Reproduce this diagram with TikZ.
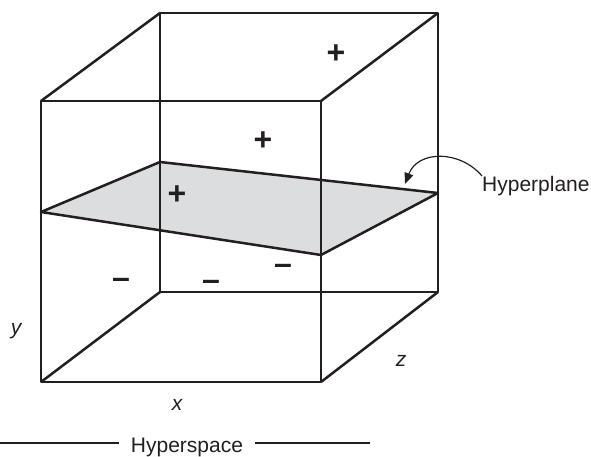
\documentclass[tikz,border=0pt]{standalone}
\usepackage{fontspec}
\setmainfont{Liberation Sans}
\usetikzlibrary{arrows.meta,calc}
\definecolor{hypink}{RGB}{35,31,32}
\definecolor{hypfill}{RGB}{220,221,223}

\begin{document}
\begin{tikzpicture}[x=1pt, y=-1pt,
    edge/.style={draw=hypink, line width=2.5pt, line join=round},
    sign/.style={text=hypink, font=\fontsize{32}{34}\selectfont\bfseries, inner sep=0pt},
    lbl/.style={text=hypink, font=\fontsize{21}{25}\selectfont, inner sep=0pt}]
  \useasboundingbox (0,0) rectangle (591,457);

  % cube corners
  \coordinate (ftl) at (41,101);
  \coordinate (ftr) at (321,101);
  \coordinate (fbr) at (321,382);
  \coordinate (fbl) at (41,382);
  \coordinate (btl) at (160,13);
  \coordinate (btr) at (438,13);
  \coordinate (bbr) at (438,292);
  \coordinate (bbl) at (160,292);

  % hyperplane
  \coordinate (pa) at (41,212);
  \coordinate (pb) at (160,162);
  \coordinate (pc) at (438,193);
  \coordinate (pd) at (321,255);
  \fill[hypfill] (pa) -- (pb) -- (pc) -- (pd) -- cycle;
  \draw[edge] (pa) -- (pb) -- (pc) -- (pd) -- cycle;

  \draw[edge] (ftl) -- (ftr) -- (fbr) -- (fbl) -- cycle;
  \draw[edge] (btl) -- (btr) -- (bbr) -- (bbl) -- cycle;
  \draw[edge] (ftl) -- (btl) (ftr) -- (btr) (fbr) -- (bbr) (fbl) -- (bbl);

  \node[sign] (plus1) at (336,54) {+};
  \node[sign] (plus2) at (263,141) {+};
  \node[sign] (plus3) at (177,195) {+};
  \node[sign] (minus1) at (121,283) {--};
  \node[sign] (minus2) at (211,285) {--};
  \node[sign] (minus3) at (283,269) {--};

  \node[lbl] (ylbl) at (16,331) {\itshape y};
  \node[lbl] (xlbl) at (177,405) {\itshape x};
  \node[lbl] (zlbl) at (401,361) {\itshape z};

  \node[lbl, anchor=west] (hyp) at (482,186) {Hyperplane};
  \coordinate (tip) at (405,184);
  \draw[hypink, line width=1.2pt, -{Triangle[length=11pt,width=9pt]}]
    (hyp.north west) .. controls (460,150) and (418,150) .. (tip);

  \node[lbl, inner xsep=12pt] (space) at (187,447) {Hyperspace};
  \coordinate (sl) at (0,443);
  \coordinate (sr) at (370,443);
  \draw[hypink, line width=2pt] (sl) -- (sl -| space.west) (space.east |- sr) -- (sr);
\end{tikzpicture}
\end{document}
